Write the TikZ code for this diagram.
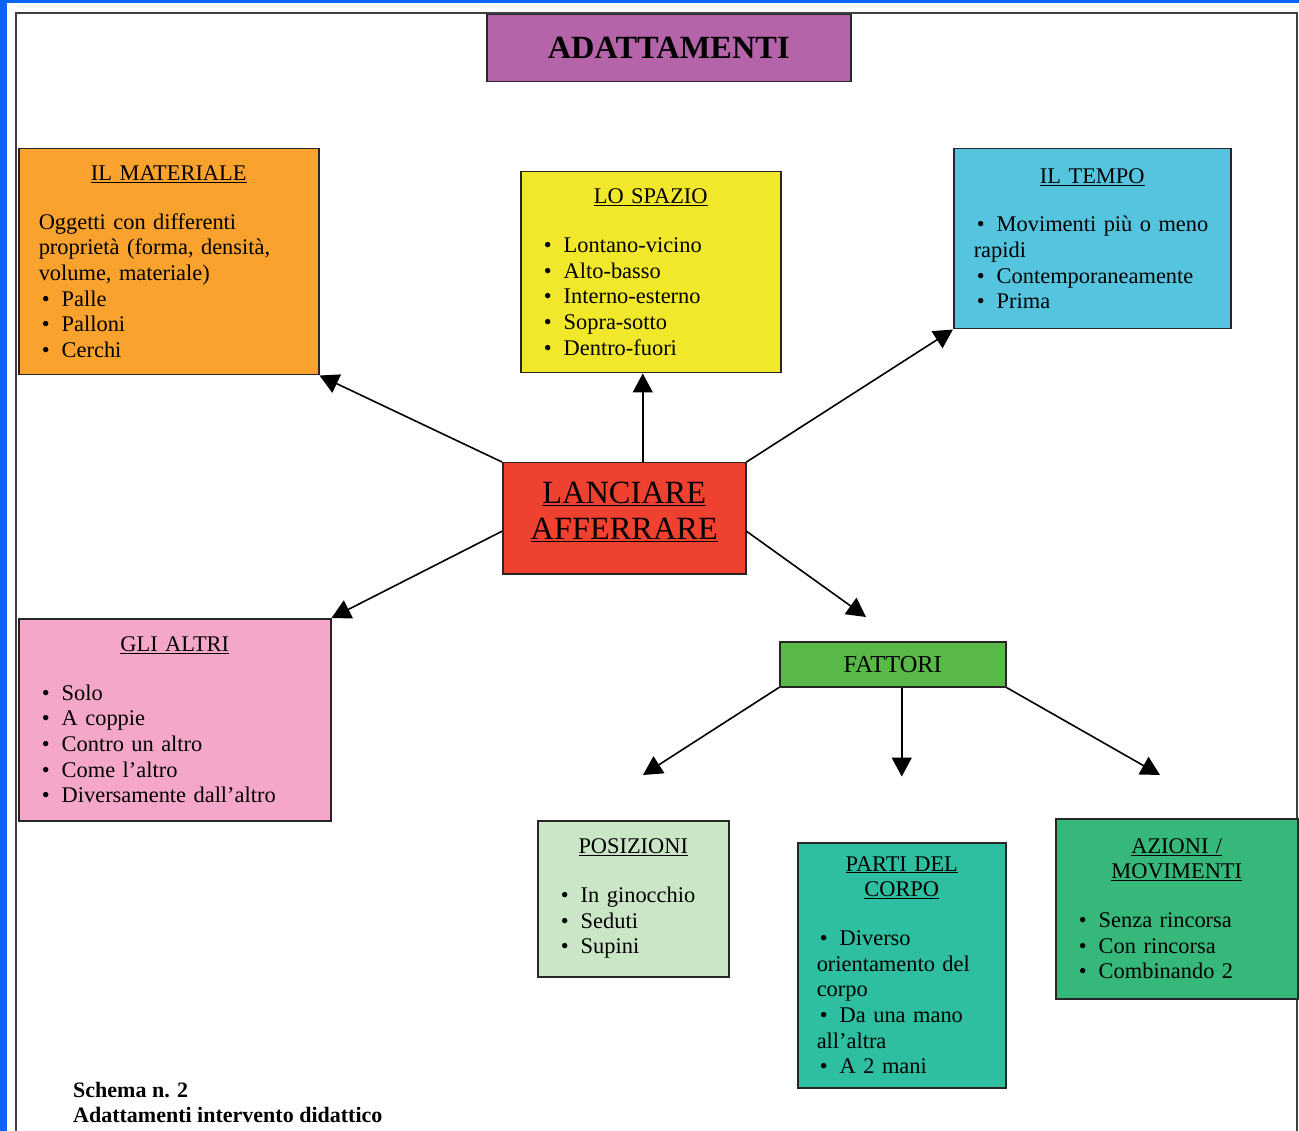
\documentclass[tikz,border=0pt]{standalone}
\usepackage{fontspec}
\setmainfont{Liberation Serif}
\usetikzlibrary{arrows.meta}
\definecolor{edgeblue}{HTML}{0A64F8}
\definecolor{adapurple}{HTML}{B564A9}
\definecolor{matorange}{HTML}{F9A22E}
\definecolor{spayellow}{HTML}{F1E82B}
\definecolor{temcyan}{HTML}{55C5DF}
\definecolor{corered}{HTML}{EE4130}
\definecolor{altpink}{HTML}{F4A7C9}
\definecolor{fatgreen}{HTML}{58B949}
\definecolor{poslight}{HTML}{CAE6C6}
\definecolor{parteal}{HTML}{2DBFA0}
\definecolor{azigreen}{HTML}{36B87A}
\tikzstyle{box}=[draw=black!85, line width=1.5pt, anchor=north west, inner xsep=20pt, inner ysep=3pt, font=\fontsize{22.4}{25.7}\selectfont]
\tikzstyle{arr}=[line width=1.6pt, -{Triangle[length=19pt,width=20pt]}]
\newcommand{\bul}{\hspace*{3pt}\makebox[20pt][l]{\textbullet}}
\newcommand{\hd}[1]{{\centering #1\par}\vspace{23pt}}

\begin{document}
\begin{tikzpicture}[x=1pt,y=-1pt]
    \useasboundingbox (0,0) rectangle (1299,1131);
    \fill[edgeblue] (0,0) rectangle (1299,3);
    \fill[edgeblue] (0,0) rectangle (7,1131);
    \draw[black!75, line width=2pt] (16,1131) -- (16,13) -- (1297,13) -- (1297,1131);

    \node[box, fill=adapurple, minimum width=364pt, minimum height=67pt, font=\fontsize{32.4}{36}\selectfont\bfseries] (ada) at (486,14) {ADATTAMENTI};

    \node[box, fill=matorange, text width=260pt, minimum height=226pt] (mat) at (18,148) {\hd{\underline{IL MATERIALE}}
        Oggetti con differenti\\
        proprietà (forma, densità,\\
        volume, materiale)\\
        \bul Palle\\
        \bul Palloni\\
        \bul Cerchi};
    \node[box, fill=spayellow, text width=220pt, minimum height=201pt] (spa) at (520,171) {\hd{\underline{LO SPAZIO}}
        \bul Lontano-vicino\\
        \bul Alto-basso\\
        \bul Interno-esterno\\
        \bul Sopra-sotto\\
        \bul Dentro-fuori};
    \node[box, fill=temcyan, text width=237pt, minimum height=180pt] (tem) at (953,148) {\hd{\underline{IL TEMPO}}
        \makebox[\linewidth][s]{\bul Movimenti più o meno}\\
        rapidi\\
        \bul Contemporaneamente\\
        \bul Prima};

    \node[box, fill=corered, minimum width=243pt, minimum height=111pt, align=center, font=\fontsize{32.4}{36}\selectfont] (core) at (502,462) {\underline{LANCIARE}\\\underline{AFFERRARE}\rule[-14pt]{0pt}{1pt}};

    \node[box, fill=altpink, text width=272pt, minimum height=202pt] (alt) at (18,618) {\hd{\underline{GLI ALTRI}}
        \bul Solo\\
        \bul A coppie\\
        \bul Contro un altro\\
        \bul Come l’altro\\
        \bul Diversamente dall’altro};

    \node[box, fill=fatgreen, minimum width=226pt, minimum height=45pt, font=\fontsize{24.4}{28}\selectfont] (fat) at (779,641) {FATTORI};

    \node[box, fill=poslight, text width=151pt, minimum height=156pt] (pos) at (537,820) {\hd{\underline{POSIZIONI}}
        \bul In ginocchio\\
        \bul Seduti\\
        \bul Supini};
    \node[box, fill=parteal, text width=170pt, inner xsep=19pt, minimum height=245pt] (par) at (797,842) {\hd{\underline{PARTI DEL}\\\underline{CORPO}}
        \bul Diverso\\
        orientamento del\\
        corpo\\
        \bul Da una mano\\
        all’altra\\
        \bul A 2 mani};
    \node[box, fill=azigreen, text width=202pt, minimum height=180pt] (azi) at (1055,818) {\hd{\underline{AZIONI /}\\\underline{MOVIMENTI}}
        \bul Senza rincorsa\\
        \bul Con rincorsa\\
        \bul Combinando 2};

    \coordinate (fatin) at (866,617);
    \coordinate (posin) at (643,775);
    \coordinate (parin) at ([xshift=9pt,yshift=-89pt]fat.south);
    \coordinate (aziin) at (1160,775);

    \draw[arr] (core.north west) -- (mat.south east);
    \draw[arr] ([xshift=18.5pt]core.north) -- ([xshift=-8pt]spa.south);
    \draw[arr] (core.north east) -- (tem.south west);
    \draw[arr] ([yshift=-13pt]core.west) -- (alt.north east);
    \draw[arr] ([yshift=-13pt]core.east) -- (fatin);
    \draw[arr] (fat.south west) -- (posin);
    \draw[arr] ([xshift=9pt]fat.south) -- (parin);
    \draw[arr] (fat.south east) -- (aziin);

    \node[anchor=base west, inner sep=0pt, font=\fontsize{22}{25}\selectfont\bfseries] (cap1) at (73,1097) {Schema n. 2};
    \node[anchor=base west, inner sep=0pt, font=\fontsize{22}{25}\selectfont\bfseries] (cap2) at (73,1122) {Adattamenti intervento didattico};
\end{tikzpicture}
\end{document}
